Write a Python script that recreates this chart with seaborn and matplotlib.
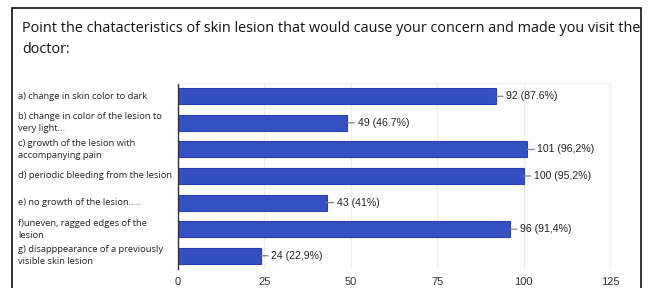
import pandas as pd
import matplotlib.pyplot as plt
import seaborn as sns
from matplotlib.patches import Rectangle

# data
labels = [
    "a) change in skin color to dark",
    "b) change in color of the lesion to\nvery light...",
    "c) growth of the lesion with\naccompanying pain",
    "d) periodic bleeding from the lesion",
    "e) no growth of the lesion.....",
    "f)uneven, ragged edges of the\nlesion",
    "g) disapppearance of a previously\nvisible skin lesion",
]
counts = [92, 49, 101, 100, 43, 96, 24]
percents = ["87.6%", "46.7%", "96,2%", "95,2%", "41%", "91,4%", "22,9%"]
xticks = [0, 25, 50, 75, 100, 125]

df = pd.DataFrame({"label": labels, "count": counts})

sns.set_style("white")
plt.rcParams["font.family"] = ["Open Sans", "DejaVu Sans"]

fig = plt.figure(figsize=(6.49, 2.88), dpi=100)
ax = fig.add_axes([178 / 649, 1 - 269 / 288, (610 - 178) / 649, (269 - 83) / 288])

sns.barplot(data=df, x="count", y="label", orient="h", ax=ax,
            color="#3451c3", edgecolor="#2a40b0", linewidth=0.8,
            width=0.6, saturation=1)

ax.set_xlim(0, 125)
ax.set_ylim(6.5, -0.5)
ax.set_xticks(xticks)
ax.set_xticklabels([str(t) for t in xticks], family="Liberation Sans",
                   fontsize=8, color="#333333")
ax.tick_params(axis="x", length=0, pad=6)
ax.tick_params(axis="y", length=0)
ax.set_yticklabels([])
ax.set_xlabel("")
ax.set_ylabel("")
ax.grid(axis="x", color="#ececec", linewidth=0.8)
ax.set_axisbelow(True)

for side in ["top", "right"]:
    ax.spines[side].set_color("#eeeeee")
    ax.spines[side].set_linewidth(0.8)
ax.spines["bottom"].set_visible(False)
ax.spines["left"].set_color("#333333")
ax.spines["left"].set_linewidth(1.0)

# category labels, left aligned at the figure edge
for i, lab in enumerate(labels):
    y_disp = ax.transData.transform((0, i))[1]
    y_fig = fig.transFigure.inverted().transform((0, y_disp))[1]
    fig.text(18 / 649, y_fig, lab, ha="left", va="center", fontsize=6.75,
             color="#222222", linespacing=1.4)

# value labels with short leader lines
for i, (c, p) in enumerate(zip(counts, percents)):
    ax.annotate(f"{c} ({p})", xy=(c, i), xytext=(7.5, 0),
                textcoords="offset points", va="center", ha="left",
                family="Liberation Sans", fontsize=7.6, color="#222222",
                arrowprops=dict(arrowstyle="-", color="#808080", lw=0.9,
                                shrinkA=0, shrinkB=0))

fig.text(22 / 649, 1 - 39 / 288,
         "Point the chatacteristics of skin lesion that would cause your concern and made you visit the\ndoctor:",
         ha="left", va="center", fontsize=10.4, color="#111111", linespacing=1.6)

# frame around the picture
fig.patches.append(Rectangle((12 / 649, -0.05), (641 - 12) / 649, 1.05 - 8 / 288,
                             transform=fig.transFigure, fill=False,
                             edgecolor="#111111", linewidth=1.2))

fig.savefig("out.png", dpi=100)
